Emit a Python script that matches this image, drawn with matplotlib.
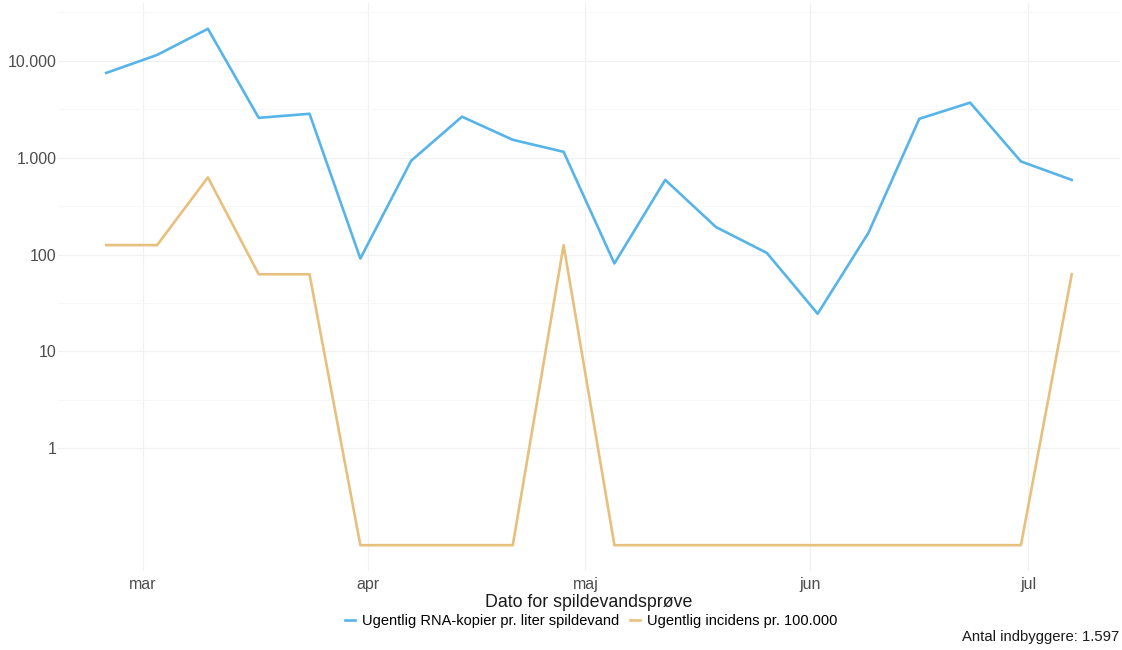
import numpy as np
import pandas as pd
import matplotlib
matplotlib.use("Agg")
import matplotlib.pyplot as plt
import matplotlib.dates as mdates
from matplotlib.ticker import FixedLocator, NullFormatter

plt.rcParams['font.family'] = ['Liberation Sans', 'DejaVu Sans']

# ugentlige prøvedatoer
datoer = pd.date_range("2021-02-24", periods=20, freq="7D")

# RNA-kopier pr. liter spildevand (aflæst)
rna = [7500, 11500, 21400, 2580, 2840, 91, 930, 2650, 1530, 1150,
       81, 590, 192, 104, 24.5, 168, 2520, 3700, 915, 590]

# incidens pr. 100.000 (0 vist som 0.1)
incidens = [125.2, 125.2, 626.2, 62.6, 62.6, 0.1, 0.1, 0.1, 0.1, 125.2,
            0.1, 0.1, 0.1, 0.1, 0.1, 0.1, 0.1, 0.1, 0.1, 62.6]

maaned_pos = pd.to_datetime(["2021-03-01", "2021-04-01", "2021-05-01", "2021-06-01", "2021-07-01"])
maaned_lab = ["mar", "apr", "maj", "jun", "jul"]

y_breaks = [1, 10, 100, 1000, 10000]
y_labels = ["1", "10", "100", "1.000", "10.000"]

blaa = "#56B4E9"
orange = "#E8C07E"

fig = plt.figure(figsize=(11.22, 6.5), dpi=100)
ax = fig.add_axes([58/1122, 79/650, 1062/1122, 568/650])

ax.plot(datoer, rna, color=blaa, lw=1.9, label="Ugentlig RNA-kopier pr. liter spildevand")
ax.plot(datoer, incidens, color=orange, lw=1.9, label="Ugentlig incidens pr. 100.000")

ax.set_yscale("log")
lo, hi = np.log10(0.1), np.log10(max(rna))
pad = (hi - lo) * 0.05
ax.set_ylim(10**(lo - pad), 10**(hi + pad))

x0 = mdates.date2num(datoer[0])
x1 = mdates.date2num(datoer[-1])
xpad = (x1 - x0) * 0.05
ax.set_xlim(x0 - xpad, x1 + xpad)

ax.yaxis.set_major_locator(FixedLocator(y_breaks))
ax.set_yticklabels(y_labels)
ax.yaxis.set_minor_locator(FixedLocator([10**(k + 0.5) for k in range(0, 5)]))
ax.yaxis.set_minor_formatter(NullFormatter())
ax.set_xticks(mdates.date2num(maaned_pos))
ax.set_xticklabels(maaned_lab)
ax.xaxis.set_minor_locator(FixedLocator([]))

ax.grid(True, which="major", color="#f1f1f1", lw=0.9)
ax.grid(True, which="minor", axis="y", color="#f7f7f7", lw=0.7)
ax.set_axisbelow(True)
for s in ax.spines.values():
    s.set_visible(False)
ax.tick_params(which="both", length=0, labelsize=11.5, labelcolor="#4d4d4d")
ax.tick_params(axis="y", pad=1)
ax.tick_params(axis="x", pad=4)

ax.set_xlabel("Dato for spildevandsprøve", fontsize=12.8, color="#1a1a1a", labelpad=2)

fig.legend(loc="center", bbox_to_anchor=(591/1122, 1 - 621/650), ncol=2, frameon=False,
           fontsize=10.5, handlelength=0.7, handletextpad=0.5, columnspacing=0.7)

fig.text(1119/1122, 1 - 637/650, "Antal indbyggere: 1.597", ha="right", va="center",
         fontsize=10.7, color="#1a1a1a")

fig.savefig("out.png", dpi=100)
